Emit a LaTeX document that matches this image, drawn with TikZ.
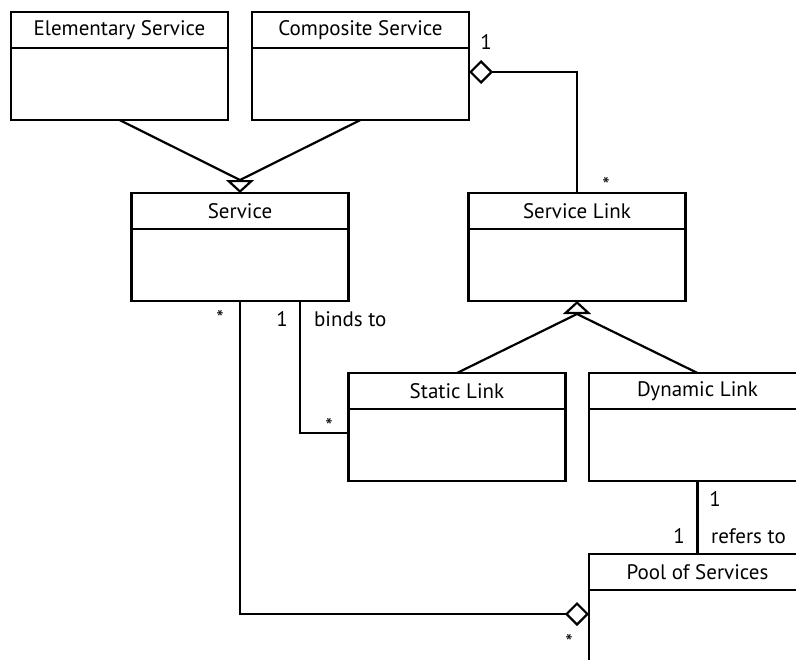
\documentclass[tikz,border=0pt]{standalone}
\usepackage{fontspec}
\setmainfont{PT Sans}
\usetikzlibrary{arrows.meta, positioning, calc}

\begin{document}
\begin{tikzpicture}[
    x=0.5pt, y=-0.5pt,
    line width=1.1pt,
    classhead/.style={rectangle, draw=black, minimum width=108.5pt, minimum height=18pt, inner sep=0pt, outer sep=0pt, text centered, font=\fontsize{10.5}{12}\selectfont},
    classbody/.style={rectangle, draw=black, minimum width=108.5pt, minimum height=36pt, inner sep=0pt, outer sep=0pt},
    conn/.style={draw=black},
    inherit/.style={-{Triangle[open, length=6.5pt, width=14pt]}},
    aggr/.style={-{Diamond[open, length=12pt, width=12pt]}},
    mult/.style={font=\fontsize{10.5}{12}\selectfont, inner sep=1pt}
]

\useasboundingbox (0,0) rectangle (796,659);
\clip (0,0) rectangle (796,659);

% === CLASSES ===
\node (elem) [classhead] at (119.5,30) {Elementary Service};
\node (elem-body) [classbody, below=0pt of elem] {};

\node (comp) [classhead] at (360.5,30) {Composite Service};
\node (comp-body) [classbody, below=0pt of comp] {};

\node (service) [classhead] at (240,211) {Service};
\node (service-body) [classbody, below=0pt of service] {};

\node (link) [classhead] at (577,211) {Service Link};
\node (link-body) [classbody, below=0pt of link] {};

\node (static) [classhead] at (457,391) {Static Link};
\node (static-body) [classbody, below=0pt of static] {};

\node (dynamic) [classhead] at (697.5,391) {Dynamic Link};
\node (dynamic-body) [classbody, below=0pt of dynamic] {};

\node (pool) [classhead] at (697.5,572) {Pool of Services};
\node (pool-body) [classbody, below=0pt of pool] {};

% === INHERITANCE ===
\coordinate (svcgen) at ($(service.north)+(0,-13)$);
\draw [conn] (elem-body.south) -- (svcgen);
\draw [conn] (comp-body.south) -- (svcgen);
\draw [conn, inherit] (svcgen) -- (service.north);

\coordinate (linkgen) at ($(link-body.south)+(0,13)$);
\draw [conn] (static.north) -- (linkgen);
\draw [conn] (dynamic.north) -- (linkgen);
\draw [conn, inherit] (linkgen) -- (link-body.south);

% === ASSOCIATIONS ===
\draw [conn, aggr] (link.north) |- ($(comp-body.north east)+(0,24)$);
\node [mult] at (486,42) {1};
\node [mult] at (606,185) {*};

\draw [conn] ([xshift=30pt]service-body.south) |- ([yshift=6pt]static-body.west);
\node [mult] at (282,319) {1};
\node [mult, anchor=west] at (311,319) {binds to};
\node [mult] at (329,426) {*};

\draw [conn] (dynamic-body.south) -- (pool.north);
\node [mult] at (715,499) {1};
\node [mult] at (679,536) {1};
\node [mult, anchor=west] at (708,536) {refers to};

\draw [conn, aggr] (service-body.south) |- ([yshift=6pt]pool-body.west);
\node [mult] at (220,318) {*};
\node [mult] at (569,642) {*};

\end{tikzpicture}
\end{document}
